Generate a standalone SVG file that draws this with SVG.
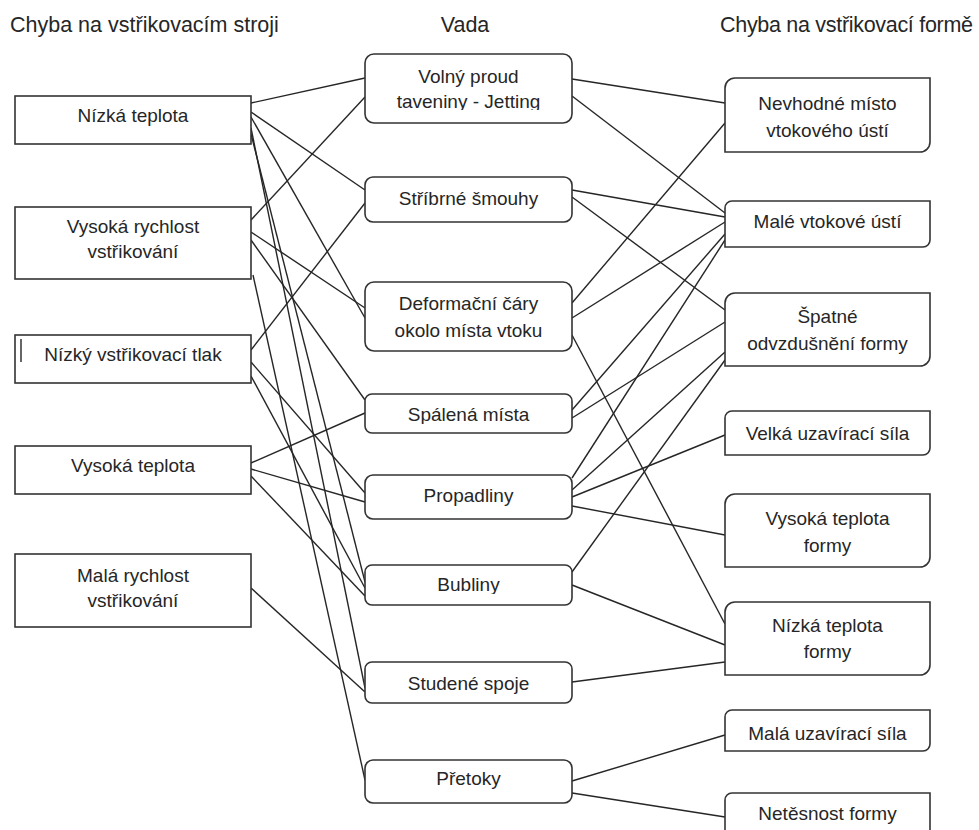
<svg xmlns="http://www.w3.org/2000/svg" width="979" height="830" viewBox="0 0 979 830">
<style>
text{font-family:"Liberation Sans",Arial,sans-serif;fill:#262626;}
.h{font-size:21.5px;}
.t{font-size:19px;text-anchor:middle;}
.box{fill:#fff;stroke:#333;stroke-width:1.6;}
#connectors line{stroke:#262626;stroke-width:1.4;}
</style>
<defs>
<clipPath id="c1"><rect x="365" y="54" width="207" height="56"/></clipPath>
<clipPath id="c2"><rect x="365" y="394" width="207" height="30"/></clipPath>
<clipPath id="c3"><rect x="365" y="565" width="207" height="29"/></clipPath>
</defs>
<rect width="979" height="830" fill="#fff"/>
<g id="headers">
<text class="h" x="10" y="32">Chyba na vstřikovacím stroji</text>
<text class="h" x="465" y="32" text-anchor="middle">Vada</text>
<text class="h" x="720" y="32" textLength="253">Chyba na vstřikovací formě</text>
</g>
<g id="connectors">
<line x1="251" y1="103" x2="365" y2="78"/>
<line x1="251" y1="112" x2="365" y2="190"/>
<line x1="251" y1="117" x2="365" y2="318"/>
<line x1="251" y1="128" x2="365" y2="688"/>
<line x1="251" y1="134" x2="365" y2="582"/>
<line x1="251" y1="220" x2="365" y2="97"/>
<line x1="251" y1="232" x2="365" y2="308"/>
<line x1="251" y1="240" x2="365" y2="400"/>
<line x1="253" y1="275" x2="365" y2="780"/>
<line x1="251" y1="350" x2="365" y2="203"/>
<line x1="251" y1="362" x2="365" y2="493"/>
<line x1="251" y1="376" x2="365" y2="588"/>
<line x1="251" y1="463" x2="365" y2="413"/>
<line x1="251" y1="469" x2="365" y2="502"/>
<line x1="251" y1="476" x2="365" y2="596"/>
<line x1="251" y1="588" x2="365" y2="692"/>
<line x1="572" y1="79" x2="725" y2="103"/>
<line x1="572" y1="96" x2="725" y2="213"/>
<line x1="572" y1="190" x2="725" y2="217"/>
<line x1="572" y1="197" x2="725" y2="310"/>
<line x1="572" y1="303" x2="725" y2="123"/>
<line x1="572" y1="318" x2="725" y2="222"/>
<line x1="572" y1="335" x2="725" y2="624"/>
<line x1="572" y1="410" x2="725" y2="234"/>
<line x1="572" y1="418" x2="725" y2="322"/>
<line x1="572" y1="478" x2="725" y2="240"/>
<line x1="572" y1="490" x2="725" y2="352"/>
<line x1="572" y1="497" x2="725" y2="435"/>
<line x1="572" y1="506" x2="725" y2="535"/>
<line x1="572" y1="572" x2="725" y2="360"/>
<line x1="572" y1="585" x2="725" y2="645"/>
<line x1="572" y1="682" x2="725" y2="662"/>
<line x1="572" y1="781" x2="725" y2="735"/>
<line x1="572" y1="793" x2="725" y2="817"/>
</g>
<g id="n-nizka-teplota"><rect class="box" x="15" y="96" width="236" height="48"/><text class="t" x="133" y="122">Nízká teplota</text></g>
<g id="n-vysoka-rychlost"><rect class="box" x="15" y="207" width="236" height="72"/><text class="t" x="133" y="233">Vysoká rychlost</text><text class="t" x="133" y="258">vstřikování</text></g>
<g id="n-nizky-tlak"><rect class="box" x="15" y="335" width="236" height="48"/><line x1="21" y1="339" x2="21" y2="362" stroke="#333" stroke-width="1.5"/><text class="t" x="133" y="361">Nízký vstřikovací tlak</text></g>
<g id="n-vysoka-teplota"><rect class="box" x="15" y="446" width="236" height="48"/><text class="t" x="133" y="472">Vysoká teplota</text></g>
<g id="n-mala-rychlost"><rect class="box" x="15" y="554" width="236" height="73"/><text class="t" x="133" y="582">Malá rychlost</text><text class="t" x="133" y="607">vstřikování</text></g>

<g id="v-volny"><rect class="box" x="365" y="54" width="207" height="69" rx="9"/><g clip-path="url(#c1)"><text class="t" x="468.5" y="83">Volný proud</text><text class="t" x="468.5" y="108">taveniny - Jetting</text></g></g>
<g id="v-stribrne"><rect class="box" x="365" y="177" width="207" height="45" rx="8"/><text class="t" x="468.5" y="205">Stříbrné šmouhy</text></g>
<g id="v-deformacni"><rect class="box" x="365" y="282" width="207" height="69" rx="9"/><text class="t" x="468.5" y="310">Deformační čáry</text><text class="t" x="468.5" y="337">okolo místa vtoku</text></g>
<g id="v-spalena"><rect class="box" x="365" y="394" width="207" height="39" rx="7"/><g clip-path="url(#c2)"><text class="t" x="468.5" y="421">Spálená místa</text></g></g>
<g id="v-propadliny"><rect class="box" x="365" y="475" width="207" height="44" rx="8"/><text class="t" x="468.5" y="502">Propadliny</text></g>
<g id="v-bubliny"><rect class="box" x="365" y="565" width="207" height="40" rx="7"/><g clip-path="url(#c3)"><text class="t" x="468.5" y="591">Bubliny</text></g></g>
<g id="v-studene"><rect class="box" x="365" y="662" width="207" height="41" rx="7"/><text class="t" x="468.5" y="690">Studené spoje</text></g>
<g id="v-pretoky"><rect class="box" x="365" y="760" width="207" height="43" rx="8"/><text class="t" x="468.5" y="785">Přetoky</text></g>

<g id="f-nevhodne"><path class="box" d="M735,78 H930 V142 A10,10 0 0 1 920,152 H725 V88 A10,10 0 0 1 735,78 Z"/><text class="t" x="827.5" y="110">Nevhodné místo</text><text class="t" x="827.5" y="137">vtokového ústí</text></g>
<g id="f-male-vtokove"><path class="box" d="M732,201 H930 V240 A7,7 0 0 1 923,247 H725 V208 A7,7 0 0 1 732,201 Z"/><text class="t" x="827.5" y="228">Malé vtokové ústí</text></g>
<g id="f-spatne"><path class="box" d="M735,293 H930 V356 A10,10 0 0 1 920,366 H725 V303 A10,10 0 0 1 735,293 Z"/><text class="t" x="827.5" y="323">Špatné</text><text class="t" x="827.5" y="350">odvzdušnění formy</text></g>
<g id="f-velka"><path class="box" d="M732,411 H930 V448 A7,7 0 0 1 923,455 H725 V418 A7,7 0 0 1 732,411 Z"/><text class="t" x="827.5" y="440">Velká uzavírací síla</text></g>
<g id="f-vysoka-teplota"><path class="box" d="M735,494 H930 V557 A10,10 0 0 1 920,567 H725 V504 A10,10 0 0 1 735,494 Z"/><text class="t" x="827.5" y="525">Vysoká teplota</text><text class="t" x="827.5" y="552">formy</text></g>
<g id="f-nizka-teplota"><path class="box" d="M735,602 H930 V665 A10,10 0 0 1 920,675 H725 V612 A10,10 0 0 1 735,602 Z"/><text class="t" x="827.5" y="632">Nízká teplota</text><text class="t" x="827.5" y="658">formy</text></g>
<g id="f-mala-uzaviraci"><path class="box" d="M732,710 H930 V744 A7,7 0 0 1 923,751 H725 V717 A7,7 0 0 1 732,710 Z"/><text class="t" x="827.5" y="740">Malá uzavírací síla</text></g>
<g id="f-netesnost"><path class="box" d="M732,793 H930 V840 H725 V800 A7,7 0 0 1 732,793 Z"/><text class="t" x="827.5" y="820">Netěsnost formy</text></g>
</svg>
